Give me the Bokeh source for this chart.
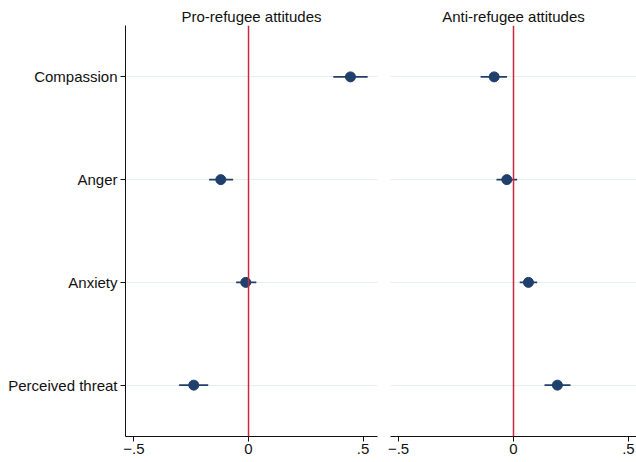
from bokeh.plotting import figure
from bokeh.layouts import row
from bokeh.models import FactorRange, Range1d, Span, FixedTicker, ColumnDataSource
from bokeh.embed import file_html
from bokeh.resources import INLINE

categories = ["Compassion", "Anger", "Anxiety", "Perceived threat"]

pro_coef = [0.445, -0.121, -0.012, -0.239]
pro_lo = [0.370, -0.172, -0.054, -0.303]
pro_hi = [0.520, -0.067, 0.034, -0.176]

anti_coef = [-0.084, -0.029, 0.065, 0.191]
anti_lo = [-0.143, -0.074, 0.027, 0.135]
anti_hi = [-0.028, 0.016, 0.103, 0.248]

x_ticks = [-0.5, 0, 0.5]
x_tick_labels = {-0.5: "\u2212.5", 0: "0", 0.5: ".5"}

FONT = "Liberation Sans"
NAVY = "#1f3f6c"
RED = "#c8283e"


def make_panel(title, coef, lo, hi, xr, width, left, show_y):
    src = ColumnDataSource(dict(cat=categories, coef=coef, lo=lo, hi=hi))
    p = figure(width=width, height=462, output_backend="svg", toolbar_location=None,
               y_range=FactorRange(factors=list(reversed(categories)), range_padding=0),
               x_range=Range1d(*xr), title=title,
               min_border_left=left, min_border_right=0 if not show_y else 5,
               min_border_top=25, min_border_bottom=26)
    p.title.align = "center"
    p.title.text_font = FONT
    p.title.text_font_size = "15px"
    p.title.text_font_style = "normal"
    p.title.text_color = "#111111"
    p.title.standoff = 2
    p.outline_line_color = None
    p.xgrid.grid_line_color = None
    p.ygrid.grid_line_color = "#e8eeee"
    p.ygrid.grid_line_width = 1

    p.xaxis.ticker = FixedTicker(ticks=x_ticks)
    p.xaxis.major_label_overrides = x_tick_labels
    p.xaxis.minor_tick_line_color = None
    p.xaxis.major_tick_out = 5
    p.xaxis.major_tick_in = 0
    p.xaxis.major_label_text_font = FONT
    p.xaxis.major_label_text_font_size = "15px"
    p.xaxis.major_label_text_color = "#111111"
    p.xaxis.axis_line_color = "#111111"
    p.xaxis.major_tick_line_color = "#111111"
    p.xaxis.major_label_standoff = 2

    if show_y:
        p.yaxis.major_tick_out = 5
        p.yaxis.major_tick_in = 0
        p.yaxis.major_label_text_font = FONT
        p.yaxis.major_label_text_font_size = "15px"
        p.yaxis.major_label_text_color = "#111111"
        p.yaxis.axis_line_color = "#111111"
        p.yaxis.major_tick_line_color = "#111111"
        p.yaxis.major_label_standoff = 3
    else:
        p.yaxis.visible = False

    p.add_layout(Span(location=0, dimension="height", line_color=RED, line_width=1.5))
    p.segment(x0="lo", x1="hi", y0="cat", y1="cat", source=src, line_color=NAVY, line_width=1.8)
    p.scatter(x="coef", y="cat", source=src, size=10, fill_color=NAVY, line_color=NAVY)
    return p


p1 = make_panel("Pro-refugee attitudes", pro_coef, pro_lo, pro_hi, (-0.537, 0.563), 382, 125, True)
p2 = make_panel("Anti-refugee attitudes", anti_coef, anti_lo, anti_hi, (-0.535, 0.535), 254, 8, False)

layout = row(p1, p2, spacing=0)
open("out.html", "w").write(file_html(layout, INLINE))
